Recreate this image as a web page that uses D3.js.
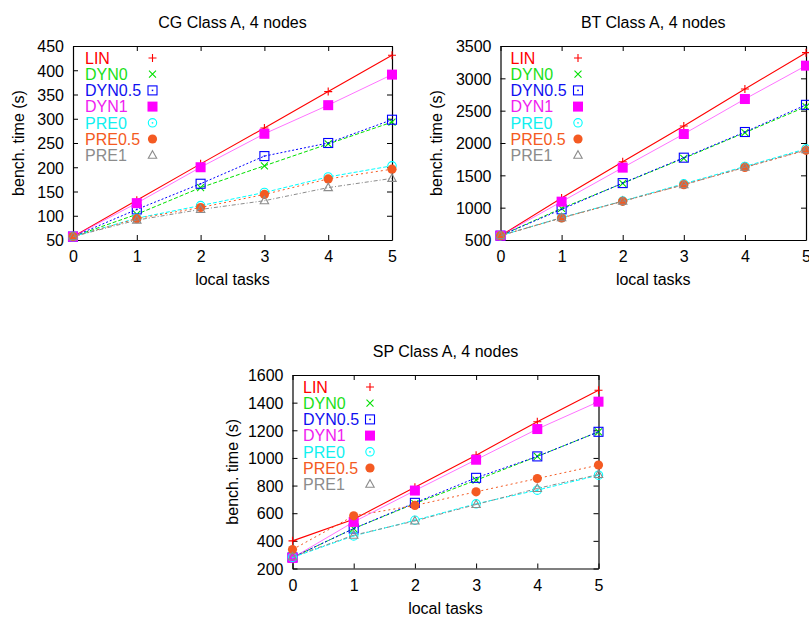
<!DOCTYPE html>
<html>
<head>
<meta charset="utf-8">
<script src="https://cdn.jsdelivr.net/npm/d3@7"></script>
<style>
  html, body { margin: 0; padding: 0; background: #fff; }
  svg { display: block; font-family: "Liberation Sans", Arial, sans-serif; }
</style>
</head>
<body>
<svg id="chart" width="809" height="617"></svg>
<script>
// ---------------- data ----------------
const localTasks = [0, 1, 2, 3, 4, 5];
const seriesNames = ["LIN", "DYN0", "DYN0.5", "DYN1", "PRE0", "PRE0.5", "PRE1"];

const cgTitle = "CG Class A, 4 nodes";
const cgTicks = [50, 100, 150, 200, 250, 300, 350, 400, 450];
const cgLIN    = [57, 132, 207, 281, 356, 431];
const cgDYN0   = [57, 103, 158, 203, 248, 293];
const cgDYN05  = [57, 113, 166, 223, 250, 298];
const cgDYN1   = [57, 126, 200, 269, 328, 391];
const cgPRE0   = [57, 95, 121, 148, 180, 203];
const cgPRE05  = [57, 94, 117, 144, 176, 196];
const cgPRE1   = [57, 91, 113, 131, 158, 177];

const btTitle = "BT Class A, 4 nodes";
const btTicks = [500, 1000, 1500, 2000, 2500, 3000, 3500];
const btLIN    = [567, 1150, 1711, 2263, 2835, 3397];
const btDYN0   = [567, 990, 1376, 1763, 2160, 2562];
const btDYN05  = [567, 974, 1380, 1773, 2170, 2590];
const btDYN1   = [567, 1093, 1619, 2139, 2680, 3196];
const btPRE0   = [567, 845, 1103, 1370, 1637, 1910];
const btPRE05  = [567, 840, 1098, 1355, 1622, 1887];
const btPRE1   = [567, 845, 1100, 1355, 1625, 1895];

const spTitle = "SP Class A, 4 nodes";
const spTicks = [200, 400, 600, 800, 1000, 1200, 1400, 1600];
const spLIN    = [400, 557, 788, 1020, 1262, 1490];
const spDYN0   = [280, 489, 670, 839, 1011, 1189];
const spDYN05  = [280, 489, 675, 856, 1011, 1189];
const spDYN1   = [277, 537, 764, 987, 1209, 1407];
const spPRE0   = [280, 436, 549, 668, 767, 875];
const spPRE05  = [337, 581, 656, 755, 851, 948];
const spPRE1   = [285, 441, 544, 663, 779, 880];

const xLabel = "local tasks";
const yLabel = "bench. time (s)";

// ---------------- styles ----------------
const styles = [
  { color: "#ff0000", text: "#ff0000", dash: null,      width: 1.1, opacity: 1,   marker: "plus" },
  { color: "#00e000", text: "#19e019", dash: "4,2",     width: 1,   opacity: 1,   marker: "cross" },
  { color: "#0000ff", text: "#1010f0", dash: "2,2",     width: 1,   opacity: 1,   marker: "sqdot" },
  { color: "#ff00ff", text: "#f020f0", dash: null,      width: 1,   opacity: 0.55,marker: "sqfill" },
  { color: "#00ffff", text: "#10f0f0", dash: "4,2",     width: 1,   opacity: 1,   marker: "circdot" },
  { color: "#f45a22", text: "#f45a22", dash: "2,3",     width: 1,   opacity: 1,   marker: "circfill" },
  { color: "#8c8c8c", text: "#8c8c8c", dash: "4,2,1,2", width: 1,   opacity: 1,   marker: "tri" }
];

const panels = [
  { title: cgTitle, ticks: cgTicks, series: [cgLIN, cgDYN0, cgDYN05, cgDYN1, cgPRE0, cgPRE05, cgPRE1],
    left: 73, right: 392, top: 46, bottom: 240, ylabX: 18, legX: 85, legM: 152.5 },
  { title: btTitle, ticks: btTicks, series: [btLIN, btDYN0, btDYN05, btDYN1, btPRE0, btPRE05, btPRE1],
    left: 500.5, right: 806, top: 46, bottom: 240, ylabX: 436.5, legX: 510.5, legM: 578 },
  { title: spTitle, ticks: spTicks, series: [spLIN, spDYN0, spDYN05, spDYN1, spPRE0, spPRE05, spPRE1],
    left: 292.5, right: 598.5, top: 375, bottom: 568.5, ylabX: 232, legX: 303, legM: 370 }
];

const svg = d3.select("#chart");
const intFmt = d3.format("d");

function drawMarker(g, type, cx, cy, color) {
  const s = g.append("g").attr("transform", `translate(${cx},${cy})`);
  if (type === "plus") {
    s.append("path").attr("d", "M-4,0H4M0,-4V4").attr("stroke", color).attr("stroke-width", 1.1).attr("fill", "none");
  } else if (type === "cross") {
    s.append("path").attr("d", "M-3.5,-3.5L3.5,3.5M-3.5,3.5L3.5,-3.5").attr("stroke", color).attr("stroke-width", 1.1).attr("fill", "none");
  } else if (type === "sqdot") {
    s.append("rect").attr("x", -4.5).attr("y", -4.5).attr("width", 9).attr("height", 9)
      .attr("fill", "none").attr("stroke", color).attr("stroke-width", 1.1);
    s.append("rect").attr("x", -0.75).attr("y", -0.75).attr("width", 1.5).attr("height", 1.5).attr("fill", color);
  } else if (type === "sqfill") {
    s.append("rect").attr("x", -5).attr("y", -5).attr("width", 10).attr("height", 10).attr("fill", color);
  } else if (type === "circdot") {
    s.append("circle").attr("r", 4.2).attr("fill", "none").attr("stroke", color).attr("stroke-width", 1.1);
    s.append("circle").attr("r", 0.9).attr("fill", color);
  } else if (type === "circfill") {
    s.append("circle").attr("r", 4.6).attr("fill", color);
  } else if (type === "tri") {
    s.append("path").attr("d", "M0,-4.5L4.2,3L-4.2,3Z").attr("fill", "none").attr("stroke", color).attr("stroke-width", 1.1);
  }
}

panels.forEach(p => {
  const yMin = p.ticks[0], yMax = p.ticks[p.ticks.length - 1];
  const x = d3.scaleLinear().domain([0, 5]).range([p.left, p.right]);
  const y = d3.scaleLinear().domain([yMin, yMax]).range([p.bottom, p.top]);
  const g = svg.append("g");

  // title
  g.append("text").attr("x", (p.left + p.right) / 2).attr("y", p.top - 18)
    .attr("text-anchor", "middle").attr("font-size", 16).attr("fill", "#000").text(p.title);

  // axes (frame with inward ticks, mirrored)
  const axB = d3.axisBottom(x).tickValues(localTasks).tickFormat(intFmt).tickSizeInner(-5).tickSizeOuter(0);
  const axT = d3.axisTop(x).tickValues(localTasks).tickSizeInner(-5).tickSizeOuter(0).tickFormat("");
  const axL = d3.axisLeft(y).tickValues(p.ticks).tickFormat(intFmt).tickSizeInner(-5).tickSizeOuter(0);
  const axR = d3.axisRight(y).tickValues(p.ticks).tickSizeInner(-5).tickSizeOuter(0).tickFormat("");

  const gb = g.append("g").attr("transform", `translate(0,${p.bottom})`).call(axB);
  const gt = g.append("g").attr("transform", `translate(0,${p.top})`).call(axT);
  const gl = g.append("g").attr("transform", `translate(${p.left},0)`).call(axL);
  const gr = g.append("g").attr("transform", `translate(${p.right},0)`).call(axR);
  [gb, gt, gl, gr].forEach(a => {
    a.selectAll("path.domain").attr("stroke", "#000").attr("stroke-width", 1.2);
    a.selectAll(".tick line").attr("stroke", "#000").attr("stroke-width", 1);
    a.selectAll("text").attr("font-size", 16).attr("fill", "#000")
      .attr("font-family", "Liberation Sans, Arial, sans-serif");
  });
  gb.selectAll(".tick text").attr("dy", "0.71em").attr("y", 11);
  gl.selectAll(".tick text").attr("dy", "0.36em").attr("x", -9);

  // axis labels
  g.append("text").attr("x", (p.left + p.right) / 2).attr("y", p.bottom + 45)
    .attr("text-anchor", "middle").attr("font-size", 16).attr("fill", "#000").text(xLabel);
  g.append("text").attr("transform", `translate(${p.ylabX},${(p.top + p.bottom) / 2}) rotate(-90)`)
    .attr("dy", "0.36em").attr("text-anchor", "middle").attr("font-size", 16).attr("fill", "#000").text(yLabel);

  // series
  const line = d3.line().x((d, i) => x(localTasks[i])).y(d => y(d));
  p.series.forEach((vals, k) => {
    const st = styles[k];
    g.append("path").datum(vals).attr("d", line)
      .attr("fill", "none").attr("stroke", st.color).attr("stroke-width", st.width)
      .attr("stroke-opacity", st.opacity)
      .attr("stroke-dasharray", st.dash);
    vals.forEach((v, i) => drawMarker(g, st.marker, x(localTasks[i]), y(v), st.color));
  });

  // legend
  seriesNames.forEach((name, k) => {
    const st = styles[k];
    const cy = p.top + 12 + k * 16.2;
    g.append("text").attr("x", p.legX).attr("y", cy).attr("dy", "0.36em")
      .attr("font-size", 16).attr("fill", st.text).text(name);
    drawMarker(g, st.marker, p.legM, cy, st.color);
  });
});
</script>
</body>
</html>
